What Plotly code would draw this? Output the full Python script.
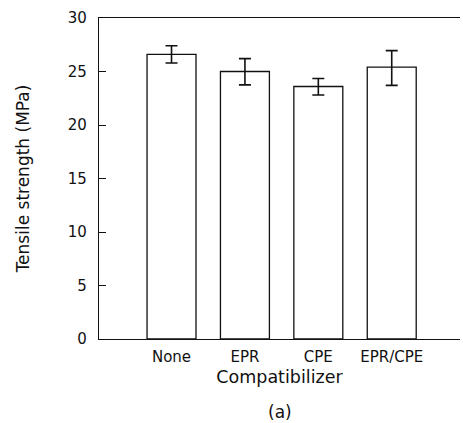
import plotly.graph_objects as go

categories = ["None", "EPR", "CPE", "EPR/CPE"]
tensile_strength = [26.6, 25.0, 23.6, 25.4]
err_plus = [0.8, 1.2, 0.75, 1.55]
err_minus = [0.8, 1.25, 0.8, 1.7]
y_ticks = [0, 5, 10, 15, 20, 25, 30]

FONT = "DejaVu Sans"
INK = "#111111"

fig = go.Figure()
fig.add_trace(go.Bar(
    x=categories,
    y=tensile_strength,
    width=0.667,
    marker=dict(color="white", line=dict(color=INK, width=1.3)),
    error_y=dict(type="data", symmetric=False, array=err_plus, arrayminus=err_minus,
                 color=INK, thickness=1.6, width=6),
    showlegend=False,
))

fig.update_layout(
    width=463, height=423,
    margin=dict(l=99, r=3, t=18, b=84),
    paper_bgcolor="white", plot_bgcolor="white",
    font=dict(family=FONT, color=INK),
    xaxis=dict(
        type="category",
        range=[-0.988, 3.93],
        showline=True, linecolor=INK, linewidth=1.2, mirror=True,
        ticks="", showgrid=False, zeroline=False,
        tickfont=dict(family=FONT, size=15, color=INK),
        ticklabelstandoff=4,
        title=dict(text="Compatibilizer", font=dict(family=FONT, size=17.5, color=INK), standoff=5),
    ),
    yaxis=dict(
        range=[0, 30],
        tickvals=y_ticks,
        showline=True, linecolor=INK, linewidth=1.2,
        ticks="inside", ticklen=7, tickcolor=INK, tickwidth=1,
        showgrid=False, zeroline=False,
        tickfont=dict(family=FONT, size=15, color=INK),
        ticklabelstandoff=8,
        title=dict(text="Tensile strength (MPa)", font=dict(family=FONT, size=17, color=INK), standoff=33),
    ),
    annotations=[dict(
        text="(a)", xref="paper", yref="paper", x=0.5, y=-0.228,
        xanchor="center", yanchor="middle", showarrow=False,
        font=dict(family=FONT, size=17, color=INK),
    )],
)

fig.write_html("out.html")
